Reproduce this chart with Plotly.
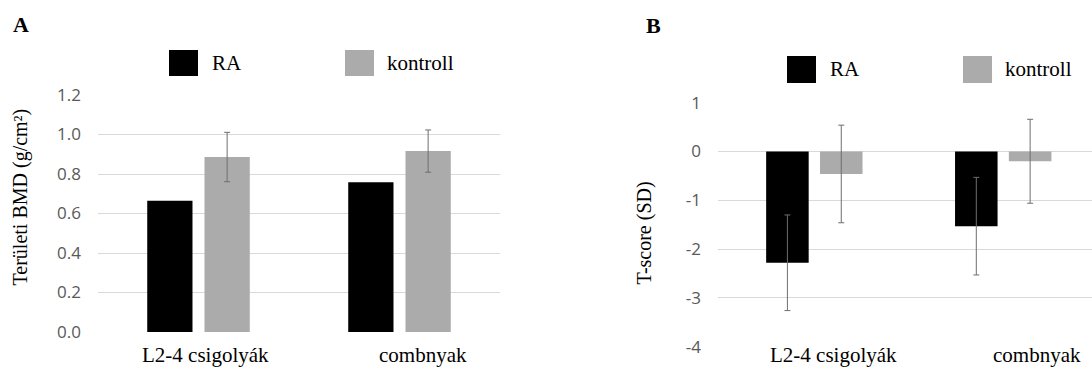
import plotly.graph_objects as go

W, H = 1092, 369

categories = ["L2-4 csigolyák", "combnyak"]
series_names = ["RA", "kontroll"]

# Panel A: areal BMD (g/cm2)
bmd_ra = [0.665, 0.758]
bmd_kontroll = [0.886, 0.916]
bmd_kontroll_sd = [0.125, 0.107]

# Panel B: T-score (SD)
t_ra = [-2.28, -1.53]
t_ra_sd = [0.98, 1.0]
t_kontroll = [-0.46, -0.20]
t_kontroll_sd = [1.0, 0.86]

ticks_a = [0.0, 0.2, 0.4, 0.6, 0.8, 1.0, 1.2]
ticks_a_text = ["0.0", "0.2", "0.4", "0.6", "0.8", "1.0", "1.2"]
ticks_b = [1, 0, -1, -2, -3, -4]
ticks_b_text = ["1", "0", "-1", "-2", "-3", "-4"]

C_RA = "#000000"
C_K = "#ababab"
C_ERR = "#6e6e6e"
C_GRID = "#d9d9d9"
SERIF = "Liberation Serif"
SANS = "Open Sans"


def px(x):
    return x / W


def py(y):
    return 1 - y / H


idx = [0, 1]
fig = go.Figure()

fig.add_trace(go.Bar(x=idx, y=bmd_ra, marker_color=C_RA, xaxis="x", yaxis="y",
                     name=series_names[0], showlegend=False))
fig.add_trace(go.Bar(x=idx, y=bmd_kontroll, marker_color=C_K, xaxis="x", yaxis="y",
                     name=series_names[1], showlegend=False,
                     error_y=dict(type="data", array=bmd_kontroll_sd, color=C_ERR,
                                  thickness=1, width=3)))

fig.add_trace(go.Bar(x=idx, y=t_ra, marker_color=C_RA, xaxis="x2", yaxis="y2",
                     name=series_names[0], showlegend=False,
                     error_y=dict(type="data", array=t_ra_sd, color=C_ERR,
                                  thickness=1, width=3)))
fig.add_trace(go.Bar(x=idx, y=t_kontroll, marker_color=C_K, xaxis="x2", yaxis="y2",
                     name=series_names[1], showlegend=False,
                     error_y=dict(type="data", array=t_kontroll_sd, color=C_ERR,
                                  thickness=1, width=3)))

axis_common = dict(showline=False, zeroline=False, showticklabels=False, ticks="",
                   showgrid=False, automargin=False)
yaxis_common = dict(showgrid=True, gridcolor=C_GRID, gridwidth=1, zeroline=False,
                    showline=False, ticks="", ticklabelstandoff=16, automargin=False,
                    tickfont=dict(family=SANS, size=17, color="#595959"))

fig.update_layout(
    template="none",
    width=W, height=H,
    margin=dict(l=0, r=0, t=0, b=0, pad=0, autoexpand=False),
    paper_bgcolor="white", plot_bgcolor="white",
    barmode="group", bargap=0.43, bargroupgap=0.21,
    showlegend=False,
    xaxis=dict(domain=[px(98), px(500)], range=[-0.5, 1.5], anchor="y", **axis_common),
    yaxis=dict(domain=[py(332), py(95)], range=[0, 1.2], anchor="x",
               tickvals=ticks_a, ticktext=ticks_a_text, **yaxis_common),
    xaxis2=dict(domain=[px(718), 1.0], range=[-0.51, 1.47], anchor="y2", **axis_common),
    yaxis2=dict(domain=[py(346.7), py(102.7)], range=[-4, 1], anchor="x2",
                tickvals=ticks_b, ticktext=ticks_b_text, **yaxis_common),
)

shapes = []
ann = []

# white box hiding bottom gridline of panel B behind labels
shapes.append(dict(type="rect", xref="paper", yref="paper", x0=px(758), x1=1.0,
                   y0=0, y1=py(344), fillcolor="white", line=dict(width=0), layer="above"))

leg_specs = [
    (169, 50, 76, 210, C_RA, series_names[0]),
    (345, 50, 76, 385, C_K, series_names[1]),
    (787, 56, 83, 828, C_RA, series_names[0]),
    (963, 56, 83, 1003, C_K, series_names[1]),
]
for x0, y0, y1, tx, col, name in leg_specs:
    shapes.append(dict(type="rect", xref="paper", yref="paper", x0=px(x0), x1=px(x0 + 29),
                       y0=py(y1), y1=py(y0), fillcolor=col, line=dict(width=0)))
    ann.append(dict(text=name, xref="paper", yref="paper", x=px(tx), y=py((y0 + y1) / 2),
                    xanchor="left", yanchor="middle", showarrow=False,
                    font=dict(family=SERIF, size=21, color="#000000")))

ann.append(dict(text="<b>A</b>", xref="paper", yref="paper", x=px(21), y=py(24),
                xanchor="center", yanchor="middle", showarrow=False,
                font=dict(family=SERIF, size=22, color="#000000")))
ann.append(dict(text="<b>B</b>", xref="paper", yref="paper", x=px(653), y=py(25),
                xanchor="center", yanchor="middle", showarrow=False,
                font=dict(family=SERIF, size=22, color="#000000")))

ann.append(dict(text="Területi BMD (g/cm²)", xref="paper", yref="paper", x=px(20), y=py(197.5),
                xanchor="center", yanchor="middle", textangle=-90, showarrow=False,
                font=dict(family=SERIF, size=20, color="#000000")))
ann.append(dict(text="T-score (SD)", xref="paper", yref="paper", x=px(644), y=py(233.5),
                xanchor="center", yanchor="middle", textangle=-90, showarrow=False,
                font=dict(family=SERIF, size=20, color="#000000")))

for i, (cat, sh) in enumerate(zip(categories, [6.5, 23.5])):
    ann.append(dict(text=cat, xref="x", yref="paper", x=i, y=py(355), xshift=sh,
                    xanchor="center", yanchor="middle", showarrow=False,
                    font=dict(family=SERIF, size=21, color="#000000")))
for i, (cat, sh) in enumerate(zip(categories, [18.7, 34])):
    ann.append(dict(text=cat, xref="x2", yref="paper", x=i, y=0, xshift=sh,
                    xanchor="center", yanchor="bottom", showarrow=False,
                    font=dict(family=SERIF, size=21, color="#000000")))

fig.update_layout(shapes=shapes, annotations=ann)
fig.write_html("out.html", post_script="document.body.style.margin='0';",
               config={"displayModeBar": False})
